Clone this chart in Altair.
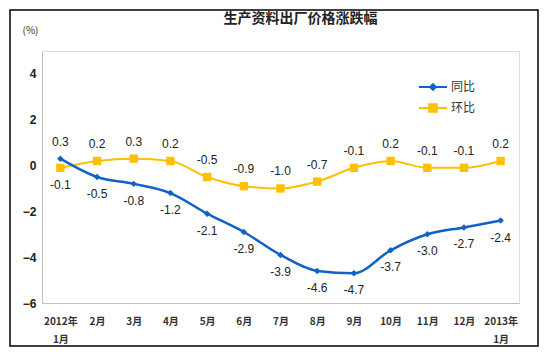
import altair as alt
import pandas as pd

months = ["2012年\n1月", "2月", "3月", "4月", "5月", "6月", "7月", "8月", "9月",
          "10月", "11月", "12月", "2013年\n1月"]
yoy = [0.3, -0.5, -0.8, -1.2, -2.1, -2.9, -3.9, -4.6, -4.7, -3.7, -3.0, -2.7, -2.4]
mom = [-0.1, 0.2, 0.3, 0.2, -0.5, -0.9, -1.0, -0.7, -0.1, 0.2, -0.1, -0.1, 0.2]
yoy_label_above = [True] + [False] * 12
mom_label_above = [False] + [True] * 12
series_names = ["同比", "环比"]
colors = ["#1262C6", "#FFC000"]
y_ticks = [-6, -4, -2, 0, 2, 4]


def frame(values, above):
    return pd.DataFrame({
        "month": months,
        "value": values,
        "label": [f"{v:.1f}" for v in values],
        "above": above,
    })

df_yoy = frame(yoy, yoy_label_above)
df_mom = frame(mom, mom_label_above)

x_enc = alt.X("month:N", sort=months, scale=alt.Scale(type="point", padding=0.5),
              axis=alt.Axis(title=None, labelAngle=0, ticks=False, domain=True,
                            domainColor="#BFBFBF", labelExpr='split(datum.label, "\\n")',
                            labelFont="Noto Sans CJK SC", labelFontWeight="bold",
                            labelFontSize=10, labelColor="#333333", labelPadding=13,
                            labelLineHeight=18))
y_enc = alt.Y("value:Q", scale=alt.Scale(domain=[-6, 5], nice=False, zero=False),
              axis=alt.Axis(values=y_ticks, grid=False, ticks=False, domainColor="#BFBFBF",
                            title="(%)", titleAngle=0, titleX=-20, titleY=-21,
                            titleAlign="left", titleBaseline="middle",
                            titleFont="Noto Sans CJK SC", titleFontSize=10,
                            titleFontWeight="normal", titleColor="#333333",
                            labelFont="Liberation Sans", labelFontSize=12,
                            labelFontWeight="bold", labelColor="#222222", labelPadding=6))

diamond_path = "M-1,0H1M0,-0.2L0.2,0L0,0.2L-0.2,0Z"
square_path = "M-1,0H1M-0.27,-0.27H0.27V0.27H-0.27Z"


def series_layer(df, name, color, shape, size, sw, legend_y, legend_path):
    base = alt.Chart(df)
    line = base.mark_line(interpolate="monotone", strokeWidth=sw).encode(
        x=x_enc, y=y_enc,
        color=alt.Color("s:N", scale=alt.Scale(domain=[name], range=[color]),
                        legend=alt.Legend(orient="none", legendX=376, legendY=legend_y,
                                          title=None, symbolType=legend_path,
                                          symbolSize=784, symbolStrokeWidth=2,
                                          symbolFillColor=color, symbolStrokeColor=color,
                                          labelFont="Noto Sans CJK SC", labelFontSize=12,
                                          labelColor="#333333", labelOffset=3, padding=0)),
    ).transform_calculate(s=f"'{name}'")
    pts = base.mark_point(shape=shape, filled=True, size=size, color=color, opacity=1).encode(
        x=x_enc, y=y_enc)
    txt_above = base.transform_filter("datum.above").mark_text(
        dy=-17, font="Liberation Sans", fontSize=12, color="#222222").encode(
        x=x_enc, y=y_enc, text="label:N")
    txt_below = base.transform_filter("!datum.above").mark_text(
        dy=17, font="Liberation Sans", fontSize=12, color="#222222").encode(
        x=x_enc, y=y_enc, text="label:N")
    return alt.layer(line, pts, txt_above, txt_below)


blue = series_layer(df_yoy, series_names[0], colors[0], "diamond", 42, 2.5, 21, diamond_path)
yellow = series_layer(df_mom, series_names[1], colors[1], "square", 70, 2, 42, square_path)

border = alt.Chart(pd.DataFrame({"a": [0]})).mark_rect(
    filled=False, stroke="black", strokeWidth=1.5).encode(
    x=alt.value(-32), x2=alt.value(496), y=alt.value(-41), y2=alt.value(295))

chart = alt.layer(yellow, blue, border).resolve_scale(color="independent").properties(
    width=477, height=252,
    autosize="none",
    padding={"left": 34, "top": 43, "right": 21, "bottom": 45},
    title=alt.TitleParams("生产资料出厂价格涨跌幅", font="Noto Sans CJK SC", fontSize=14,
                          fontWeight="bold", color="#222222", anchor="middle", dx=20,
                          offset=0, dy=31, baseline="bottom"),
).configure_view(stroke="#D9D9D9", strokeWidth=1.5).configure(background="white")

chart.save("out.html", embed_options={"renderer": "svg", "actions": False})
